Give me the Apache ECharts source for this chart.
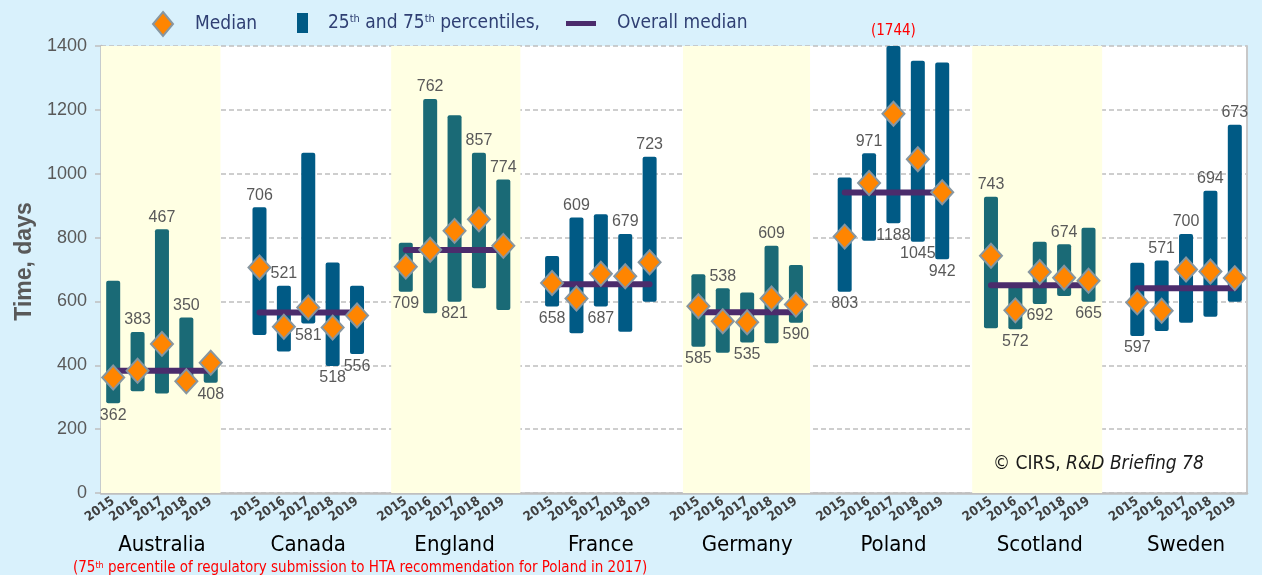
<!doctype html>
<html>
<head>
<meta charset="utf-8">
<title>HTA timelines</title>
<script src="https://cdn.jsdelivr.net/npm/echarts@6/dist/echarts.min.js"></script>
</head>
<body style="margin:0;background:#d9f1fc">
<div id="chart" style="width:1262px;height:575px;"></div>
<script>
var countries = ['Australia', 'Canada', 'England', 'France', 'Germany', 'Poland', 'Scotland', 'Sweden'];
var years = ['2015', '2016', '2017', '2018', '2019'];

// median days, one row per country (2015..2019)
var median = [
    [362, 383, 467, 350, 408],
    [706, 521, 581, 518, 556],
    [709, 762, 821, 857, 774],
    [658, 609, 687, 679, 723],
    [585, 538, 535, 609, 590],
    [803, 971, 1188, 1045, 942],
    [743, 572, 692, 674, 665],
    [597, 571, 700, 694, 673]
];
var p25 = [
    [281, 319, 312, 338, 345],
    [495, 443, 531, 398, 435],
    [630, 563, 599, 641, 573],
    [584, 500, 584, 505, 599],
    [458, 439, 471, 469, 533],
    [630, 790, 845, 787, 732],
    [516, 513, 592, 617, 599],
    [492, 507, 533, 552, 599]
];
var p75 = [
    [665, 504, 826, 550, 425],
    [895, 649, 1066, 722, 649],
    [784, 1234, 1183, 1066, 982],
    [742, 863, 873, 811, 1053],
    [685, 641, 628, 774, 714],
    [988, 1064, 1744, 1354, 1348],
    [928, 652, 787, 779, 831],
    [721, 728, 811, 947, 1153]
];
var overallMedian = [383, 565, 761, 654, 566, 941, 651, 641];

// where each median label sits: t = above the bar, b = below it
var labelSide = [
    'btttb', 'ttbbb', 'btbtt', 'btbtt', 'btbtb', 'btbbb', 'tbbtb', 'btttt'
];
// shaded country bands, in category slots
var bands = [[0, 4.9], [11.9, 17.2], [23.87, 29.08], [35.73, 41.06]];

var YMAX = 1400;
var narrow = '"Liberation Sans Narrow", "DejaVu Sans Condensed", sans-serif';
var arial = '"Liberation Sans", Arial, sans-serif';

var cats = [], countryAxis = [];
var barData = [], medData = [], lineData = [], items = [];
countries.forEach(function (c, ci) {
    years.forEach(function (y, yi) {
        var idx = cats.length;
        cats.push(y);
        countryAxis.push(yi === 2 ? c : '');
        barData.push([idx, p25[ci][yi], p75[ci][yi]]);
        medData.push([idx, median[ci][yi]]);
        lineData.push([idx, overallMedian[ci]]);
        items.push({ c: ci, med: median[ci][yi], side: labelSide[ci][yi] });
    });
    if (ci < countries.length - 1) {
        var gap = cats.length;
        cats.push('');
        countryAxis.push('');
        lineData.push([gap, '-']);
    }
});

function renderBar(params, api) {
    var cs = params.coordSys;
    var it = items[params.dataIndex];
    var lo = api.coord([api.value(0), api.value(1)]);
    var hi = api.coord([api.value(0), api.value(2)]);
    var w = 14;
    var rect = echarts.graphic.clipRectByRect(
        { x: lo[0] - w / 2, y: hi[1], width: w, height: lo[1] - hi[1] },
        { x: cs.x, y: cs.y, width: cs.width, height: cs.height });
    var kids = [{
        type: 'rect',
        shape: { x: rect.x, y: rect.y, width: rect.width, height: rect.height, r: 2 },
        style: { fill: it.c % 2 === 0 ? '#1a6a76' : '#005a85' }
    }];
    var top = it.side === 't';
    kids.push({
        type: 'text',
        x: lo[0],
        y: top ? Math.max(hi[1], cs.y) - 4 : lo[1] + 4,
        style: {
            text: String(it.med), fill: '#595959', font: '16px ' + arial,
            align: 'center', verticalAlign: top ? 'bottom' : 'top'
        },
        z2: 20
    });
    if (api.value(2) > YMAX) {
        kids.push({
            type: 'text', x: lo[0], y: cs.y - 7,
            style: {
                text: '(' + api.value(2) + ')', fill: '#ff0000', font: '15px ' + narrow,
                align: 'center', verticalAlign: 'bottom'
            }
        });
    }
    return { type: 'group', children: kids };
}

function legendText(pad) {
    return {
        color: '#2f3f73', fontSize: 19, fontFamily: narrow, padding: [0, 0, 0, pad],
        rich: { sup: { fontSize: 11, verticalAlign: 'top', lineHeight: 12, color: '#2f3f73', fontFamily: narrow } }
    };
}

var myChart = echarts.init(document.getElementById('chart'));
myChart.setOption({
    backgroundColor: '#d9f1fc',
    animation: false,
    grid: { left: 101, right: 15, top: 46, bottom: 82, show: true, backgroundColor: '#fff', borderWidth: 0 },
    legend: [
        {
            left: 152, top: 11, padding: 0, itemWidth: 22, itemHeight: 24, textStyle: legendText(16),
            data: [{ name: 'Median', icon: 'path://M10,0L20,12L10,24L0,12Z' }]
        },
        {
            left: 297, top: 13, padding: 0, itemWidth: 11, itemHeight: 20, textStyle: legendText(15),
            formatter: function () { return '25{sup|th} and 75{sup|th} percentiles,'; },
            data: [{ name: '25th and 75th percentiles,', icon: 'path://M0,0H11V20H0Z' }]
        },
        {
            left: 566, top: 14, padding: 0, itemWidth: 30, itemHeight: 18, textStyle: legendText(16),
            data: [{ name: 'Overall median', icon: 'path://M0,0H30V5H0Z' }]
        }
    ],
    xAxis: [
        {
            type: 'category', data: cats, boundaryGap: true,
            axisLine: { lineStyle: { color: '#bfbfbf', width: 2.5 } },
            axisTick: { interval: 0, length: 5, lineStyle: { color: '#bfbfbf', width: 1.5 } },
            axisLabel: { interval: 0, rotate: 35, margin: 7, color: '#404040', fontSize: 13, fontWeight: 'bold', fontFamily: narrow }
        },
        {
            type: 'category', data: countryAxis, position: 'bottom', offset: 37,
            axisLine: { show: false }, axisTick: { show: false },
            axisLabel: { interval: 0, margin: 4, color: '#000', fontSize: 22, fontFamily: narrow }
        },
        { type: 'value', min: 0, max: cats.length, show: false }
    ],
    yAxis: [
        {
            type: 'value', min: 0, max: YMAX, interval: 200,
            name: 'Time, days', nameLocation: 'middle', nameGap: 50,
            nameTextStyle: { color: '#595959', fontSize: 23, fontWeight: 'bold', fontFamily: arial, padding: [0, 0, 0, 16] },
            axisLine: { show: true, lineStyle: { color: '#bfbfbf', width: 2.5 } },
            axisTick: { show: true, length: 6, lineStyle: { color: '#bfbfbf', width: 1.5 } },
            axisLabel: {
                color: '#595959', fontSize: 18, fontFamily: arial, margin: 14,
                formatter: function (v) { return String(v); }
            },
            splitLine: { lineStyle: { color: '#bfbfbf', type: [5, 3], width: 1.5 } }
        },
        {
            type: 'value', min: 0, max: YMAX, position: 'right',
            axisLine: { show: true, lineStyle: { color: '#c8c8c8', width: 2 } },
            axisTick: { show: false }, axisLabel: { show: false }, splitLine: { show: false }
        }
    ],
    series: [
        {
            type: 'line', xAxisIndex: 2, data: [], silent: true, z: 0,
            markArea: {
                silent: true,
                itemStyle: { color: '#ffffe3' },
                data: bands.map(function (b) { return [{ xAxis: b[0] }, { xAxis: b[1] }]; })
            }
        },
        {
            name: '25th and 75th percentiles,', type: 'custom', renderItem: renderBar,
            data: barData, encode: { x: 0, y: [1, 2] }, z: 2,
            itemStyle: { color: '#005a85' }
        },
        {
            name: 'Overall median', type: 'line', data: lineData, z: 3,
            symbol: 'none', connectNulls: false,
            itemStyle: { color: '#4b2c6c' },
            lineStyle: { color: '#4b2c6c', width: 6, cap: 'round' }
        },
        {
            name: 'Median', type: 'scatter', data: medData, z: 4,
            symbol: 'diamond', symbolSize: [22, 24],
            itemStyle: { color: '#ff8500', borderColor: '#8796a0', borderWidth: 2, opacity: 1 }
        }
    ],
    graphic: [
        {
            type: 'text', left: 993, top: 455, z: 100,
            style: {
                text: '\u00a9 CIRS, {i|R&D Briefing 78}', fill: '#1a1a1a', font: '19px ' + narrow,
                rich: { i: { fontStyle: 'italic', fontSize: 19, fontFamily: narrow, fill: '#1a1a1a' } }
            }
        },
        {
            type: 'text', left: 73, top: 561, z: 100,
            style: {
                text: '(75{s|th} percentile of regulatory submission to HTA recommendation for Poland in 2017)',
                fill: '#ff0000', font: '15px ' + narrow,
                rich: { s: { fontSize: 9, verticalAlign: 'top', fill: '#ff0000', fontFamily: narrow } }
            }
        }
    ]
});
</script>
</body>
</html>
